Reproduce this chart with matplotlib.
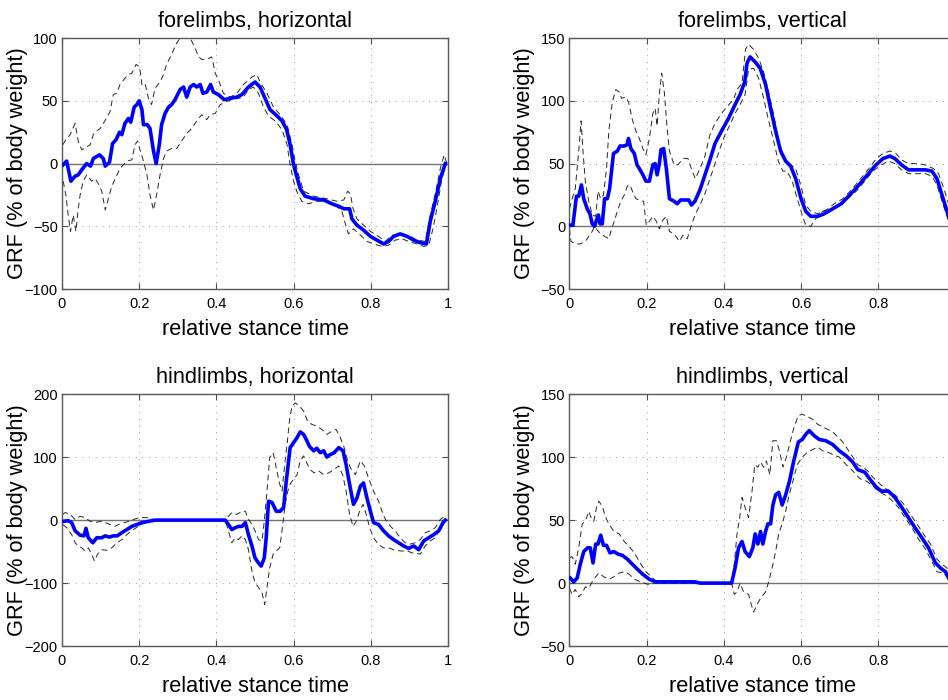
import matplotlib
matplotlib.use('Agg')
import matplotlib.pyplot as plt

plt.rcParams['font.family'] = ['Liberation Sans', 'DejaVu Sans']

# ---- data (x = relative stance time, y = GRF % body weight)

fore_h_mean = [(0.003, -1), (0.012, 2), (0.023, -14), (0.034, -10), (0.042, -9), (0.051, -5), (0.064, 0),
               (0.074, -2), (0.081, 4), (0.097, 7), (0.107, 4), (0.112, -2), (0.123, 1), (0.131, 16),
               (0.140, 19), (0.149, 25), (0.155, 23), (0.163, 32), (0.172, 36), (0.178, 33), (0.187, 45),
               (0.194, 47), (0.200, 50), (0.207, 43), (0.211, 31), (0.221, 31), (0.228, 28), (0.237, 10),
               (0.244, 0), (0.252, 15), (0.258, 31), (0.267, 40), (0.276, 45), (0.284, 47), (0.293, 51),
               (0.306, 59), (0.315, 61), (0.323, 53), (0.332, 61), (0.341, 63), (0.349, 61), (0.358, 63),
               (0.365, 56), (0.375, 57), (0.385, 63), (0.392, 57), (0.405, 55), (0.420, 51), (0.436, 52),
               (0.453, 53), (0.466, 55), (0.483, 61), (0.500, 65), (0.513, 61), (0.526, 52), (0.539, 43),
               (0.557, 38), (0.570, 34), (0.582, 27), (0.591, 15), (0.600, -1), (0.608, -10), (0.617, -20),
               (0.630, -26), (0.652, -28), (0.678, -29), (0.699, -32), (0.717, -34), (0.730, -36),
               (0.745, -36), (0.751, -44), (0.764, -49), (0.781, -53), (0.799, -58), (0.816, -61),
               (0.833, -64), (0.846, -62), (0.859, -58), (0.876, -56), (0.894, -58), (0.911, -61),
               (0.928, -63), (0.944, -64), (0.954, -46), (0.967, -30), (0.980, -12), (0.993, 0)]
fore_h_upper = [(0.002, 15), (0.008, 18), (0.021, 23), (0.034, 32), (0.042, 18), (0.051, 11), (0.073, 15),
                (0.081, 23), (0.090, 26), (0.099, 28), (0.111, 34), (0.124, 41), (0.133, 55), (0.142, 56),
                (0.150, 63), (0.163, 68), (0.172, 71), (0.181, 72), (0.192, 79), (0.201, 77), (0.207, 63),
                (0.215, 64), (0.224, 52), (0.232, 47), (0.241, 60), (0.254, 65), (0.263, 71), (0.271, 79),
                (0.284, 87), (0.297, 96), (0.306, 100), (0.319, 101), (0.332, 100), (0.345, 92), (0.354, 85),
                (0.362, 83), (0.375, 83), (0.388, 85), (0.397, 72), (0.405, 67), (0.418, 56), (0.436, 53),
                (0.453, 56), (0.470, 63), (0.492, 69), (0.505, 71), (0.513, 65), (0.531, 56), (0.548, 45),
                (0.565, 39), (0.583, 31), (0.596, 15), (0.604, 2), (0.613, -9), (0.626, -22), (0.652, -26),
                (0.686, -28), (0.712, -30), (0.730, -29), (0.740, -22), (0.747, -24), (0.754, -36),
                (0.764, -44), (0.781, -49), (0.799, -54), (0.820, -58), (0.838, -62), (0.850, -58),
                (0.868, -56), (0.885, -56), (0.902, -58), (0.920, -61), (0.941, -62), (0.954, -41),
                (0.967, -24), (0.980, -4), (0.990, 7), (0.997, 0)]
fore_h_lower = [(0.003, -14), (0.010, -25), (0.016, -41), (0.022, -54), (0.029, -41), (0.036, -54),
                (0.042, -36), (0.047, -25), (0.055, -14), (0.064, -9), (0.077, -14), (0.086, -12),
                (0.094, -16), (0.103, -22), (0.112, -37), (0.120, -28), (0.129, -18), (0.138, -12),
                (0.150, -4), (0.159, -1), (0.168, 2), (0.181, 3), (0.189, 15), (0.196, 18), (0.202, 11),
                (0.211, 2), (0.220, -9), (0.228, -25), (0.237, -37), (0.245, -25), (0.254, -9), (0.263, 4),
                (0.271, 10), (0.284, 12), (0.297, 12), (0.310, 18), (0.323, 24), (0.336, 28), (0.349, 34),
                (0.362, 39), (0.375, 35), (0.384, 39), (0.397, 40), (0.410, 47), (0.423, 49), (0.440, 51),
                (0.457, 52), (0.470, 53), (0.483, 59), (0.496, 61), (0.509, 56), (0.522, 45), (0.535, 38),
                (0.552, 34), (0.570, 27), (0.583, 15), (0.591, -1), (0.600, -14), (0.608, -22), (0.621, -30),
                (0.639, -32), (0.660, -30), (0.686, -30), (0.708, -33), (0.725, -38), (0.734, -48),
                (0.742, -56), (0.755, -52), (0.773, -57), (0.790, -62), (0.807, -64), (0.829, -66),
                (0.846, -65), (0.863, -61), (0.881, -60), (0.898, -62), (0.920, -64), (0.937, -66),
                (0.950, -65), (0.961, -52), (0.971, -36), (0.984, -12), (0.996, 0)]

fore_v_mean = [(0.002, 1), (0.009, 1), (0.018, 24), (0.024, 24), (0.031, 33), (0.037, 22), (0.046, 14),
               (0.053, 10), (0.059, 2), (0.065, 0), (0.070, 5), (0.075, 9), (0.079, 2), (0.085, 2),
               (0.091, 22), (0.098, 22), (0.104, 30), (0.114, 58), (0.124, 60), (0.131, 64), (0.142, 64),
               (0.149, 65), (0.153, 70), (0.159, 62), (0.168, 58), (0.175, 49), (0.183, 45), (0.192, 40),
               (0.198, 36), (0.207, 36), (0.216, 49), (0.222, 50), (0.227, 41), (0.233, 50), (0.237, 61),
               (0.244, 62), (0.251, 46), (0.259, 22), (0.271, 20), (0.279, 18), (0.288, 21), (0.300, 21),
               (0.309, 21), (0.316, 17), (0.325, 20), (0.338, 29), (0.351, 41), (0.364, 53), (0.377, 66),
               (0.394, 76), (0.412, 86), (0.429, 97), (0.442, 105), (0.454, 115), (0.460, 130),
               (0.468, 135), (0.481, 131), (0.494, 126), (0.508, 113), (0.521, 94), (0.534, 76),
               (0.547, 60), (0.560, 52), (0.573, 48), (0.586, 38), (0.600, 22), (0.612, 12), (0.625, 8),
               (0.643, 8), (0.660, 10), (0.682, 14), (0.704, 18), (0.726, 25), (0.747, 32), (0.769, 40),
               (0.791, 48), (0.812, 54), (0.830, 56), (0.843, 54), (0.860, 49), (0.878, 45), (0.900, 45),
               (0.922, 45), (0.939, 44), (0.952, 38), (0.965, 25), (0.978, 12), (0.990, 0)]
fore_v_upper = [(0.000, 14), (0.007, 22), (0.015, 30), (0.024, 60), (0.030, 84), (0.035, 60), (0.041, 36),
                (0.050, 20), (0.059, 9), (0.068, 8), (0.074, 28), (0.081, 22), (0.088, 25), (0.096, 46),
                (0.102, 76), (0.111, 99), (0.120, 109), (0.129, 107), (0.135, 102), (0.146, 103),
                (0.153, 99), (0.163, 85), (0.172, 76), (0.181, 70), (0.190, 62), (0.198, 57), (0.207, 70),
                (0.216, 90), (0.222, 94), (0.227, 80), (0.233, 106), (0.239, 122), (0.246, 106),
                (0.253, 78), (0.259, 60), (0.271, 49), (0.281, 49), (0.294, 54), (0.307, 54), (0.318, 44),
                (0.326, 38), (0.338, 46), (0.351, 56), (0.364, 73), (0.377, 82), (0.394, 90), (0.407, 95),
                (0.425, 101), (0.434, 109), (0.447, 114), (0.456, 141), (0.464, 145), (0.477, 141),
                (0.490, 134), (0.503, 123), (0.516, 107), (0.529, 89), (0.542, 68), (0.556, 54),
                (0.569, 50), (0.586, 46), (0.600, 32), (0.612, 17), (0.625, 12), (0.643, 10), (0.665, 13),
                (0.686, 18), (0.708, 22), (0.730, 29), (0.752, 37), (0.773, 45), (0.795, 54), (0.812, 58),
                (0.830, 60), (0.846, 58), (0.860, 53), (0.878, 50), (0.900, 50), (0.922, 49), (0.943, 46),
                (0.956, 42), (0.970, 30), (0.983, 17), (0.990, 8)]
fore_v_lower = [(0.000, -2), (0.004, -12), (0.015, -14), (0.028, -14), (0.041, -12), (0.050, -8),
                (0.059, -4), (0.065, 0), (0.072, -3), (0.081, -6), (0.091, -8), (0.102, -10), (0.109, -2),
                (0.116, 4), (0.124, 12), (0.133, 20), (0.142, 25), (0.150, 32), (0.157, 33), (0.163, 28),
                (0.172, 22), (0.181, 21), (0.192, 20), (0.199, 1), (0.207, 4), (0.216, 8), (0.225, 4),
                (0.233, -2), (0.242, 5), (0.251, 8), (0.259, -4), (0.271, -6), (0.285, -12), (0.294, -7),
                (0.305, -10), (0.316, 1), (0.325, 9), (0.338, 17), (0.351, 26), (0.364, 38), (0.377, 50),
                (0.390, 62), (0.403, 73), (0.416, 81), (0.429, 90), (0.442, 97), (0.455, 105),
                (0.464, 125), (0.477, 126), (0.490, 118), (0.503, 102), (0.516, 84), (0.529, 68),
                (0.541, 52), (0.553, 44), (0.564, 44), (0.577, 36), (0.590, 22), (0.604, 8), (0.612, 1),
                (0.625, 0), (0.638, 6), (0.656, 12), (0.678, 14), (0.699, 17), (0.721, 22), (0.743, 28),
                (0.765, 36), (0.786, 44), (0.808, 49), (0.826, 52), (0.843, 50), (0.860, 45), (0.878, 42),
                (0.900, 42), (0.922, 42), (0.939, 40), (0.952, 33), (0.965, 20), (0.978, 8), (0.990, -2)]

hind_h_mean = [(0.003, -2), (0.016, -1), (0.025, -4), (0.034, -17), (0.047, -24), (0.057, -25),
               (0.062, -13), (0.068, -28), (0.080, -36), (0.090, -28), (0.103, -28), (0.112, -25),
               (0.123, -27), (0.133, -25), (0.143, -25), (0.155, -20), (0.168, -15), (0.181, -10),
               (0.194, -7), (0.207, -4), (0.224, -2), (0.241, 0), (0.423, 0), (0.431, -7), (0.440, -15),
               (0.449, -12), (0.457, -10), (0.466, -10), (0.475, -4), (0.483, -23), (0.492, -41),
               (0.500, -60), (0.509, -68), (0.516, -73), (0.524, -60), (0.529, -28), (0.535, 30),
               (0.544, 28), (0.555, 14), (0.565, 14), (0.574, 20), (0.581, 62), (0.591, 115), (0.600, 123),
               (0.609, 131), (0.617, 140), (0.626, 136), (0.635, 125), (0.641, 117), (0.652, 110),
               (0.660, 114), (0.669, 107), (0.678, 110), (0.686, 100), (0.695, 104), (0.705, 107),
               (0.717, 115), (0.728, 110), (0.736, 88), (0.745, 57), (0.755, 25), (0.764, 35), (0.773, 54),
               (0.781, 59), (0.790, 35), (0.799, 14), (0.807, -4), (0.820, -7), (0.833, -17), (0.846, -25),
               (0.859, -31), (0.872, -36), (0.885, -41), (0.898, -45), (0.911, -41), (0.924, -47),
               (0.937, -33), (0.950, -28), (0.963, -23), (0.976, -17), (0.987, -4), (0.993, 0)]
hind_h_upper = [(0.002, 9), (0.008, 12), (0.021, 9), (0.034, 1), (0.047, 6), (0.060, 4), (0.073, -2),
                (0.086, -4), (0.099, -2), (0.112, -4), (0.124, -7), (0.137, -10), (0.150, -6), (0.168, -3),
                (0.185, 1), (0.202, 4), (0.220, 4), (0.237, 1), (0.254, 0), (0.423, 0), (0.431, 6),
                (0.440, 12), (0.453, 9), (0.466, 14), (0.475, 14), (0.483, 1), (0.492, -7), (0.500, -17),
                (0.509, -31), (0.518, -33), (0.524, -2), (0.531, 46), (0.538, 99), (0.547, 107),
                (0.555, 83), (0.564, 57), (0.570, 46), (0.576, 83), (0.583, 120), (0.590, 162),
                (0.596, 181), (0.604, 186), (0.615, 181), (0.626, 173), (0.636, 157), (0.647, 152),
                (0.660, 149), (0.673, 144), (0.686, 136), (0.699, 141), (0.710, 144), (0.721, 131),
                (0.730, 117), (0.738, 99), (0.747, 83), (0.760, 72), (0.773, 94), (0.783, 86), (0.794, 67),
                (0.807, 46), (0.820, 30), (0.829, 14), (0.838, 1), (0.851, -10), (0.863, -17), (0.876, -28),
                (0.889, -36), (0.902, -38), (0.915, -36), (0.928, -31), (0.941, -20), (0.954, -17),
                (0.967, -12), (0.980, 1), (0.989, 5), (0.993, 1)]
hind_h_lower = [(0.002, -7), (0.012, -12), (0.025, -23), (0.034, -36), (0.042, -41), (0.051, -44),
                (0.060, -49), (0.068, -44), (0.077, -54), (0.084, -65), (0.092, -54), (0.103, -47),
                (0.116, -48), (0.129, -44), (0.142, -36), (0.155, -31), (0.168, -23), (0.185, -15),
                (0.202, -8), (0.220, -3), (0.237, -1), (0.254, 0), (0.423, 0), (0.431, -17), (0.440, -36),
                (0.449, -28), (0.457, -31), (0.466, -25), (0.475, -31), (0.483, -47), (0.492, -81),
                (0.500, -99), (0.509, -107), (0.518, -115), (0.525, -134), (0.531, -107), (0.538, -76),
                (0.547, -54), (0.555, -49), (0.564, -44), (0.572, -7), (0.578, 25), (0.585, 46),
                (0.591, 57), (0.600, 65), (0.609, 72), (0.617, 94), (0.626, 102), (0.634, 91), (0.643, 80),
                (0.653, 75), (0.665, 78), (0.678, 72), (0.691, 75), (0.704, 80), (0.717, 86), (0.728, 70),
                (0.736, 46), (0.745, 9), (0.754, -10), (0.762, -2), (0.771, 14), (0.780, 25), (0.788, 9),
                (0.797, -12), (0.807, -28), (0.820, -39), (0.833, -44), (0.846, -44), (0.859, -47),
                (0.876, -49), (0.894, -49), (0.907, -52), (0.920, -53), (0.928, -54), (0.941, -41),
                (0.954, -33), (0.967, -28), (0.980, -12), (0.993, -2)]

hind_v_mean = [(0.002, 4), (0.011, 1), (0.020, 4), (0.028, 15), (0.037, 25), (0.047, 28), (0.054, 28),
               (0.061, 16), (0.068, 31), (0.074, 31), (0.081, 38), (0.088, 30), (0.096, 30), (0.105, 24),
               (0.115, 25), (0.126, 23), (0.137, 22), (0.150, 19), (0.163, 15), (0.176, 11), (0.190, 7),
               (0.207, 3), (0.224, 1), (0.325, 1), (0.338, 0), (0.420, 0), (0.429, 12), (0.438, 28),
               (0.447, 33), (0.455, 25), (0.466, 21), (0.475, 28), (0.481, 39), (0.488, 31), (0.495, 41),
               (0.501, 31), (0.508, 41), (0.514, 47), (0.521, 47), (0.527, 62), (0.534, 70), (0.542, 72),
               (0.551, 62), (0.560, 70), (0.570, 81), (0.581, 97), (0.593, 112), (0.603, 114),
               (0.612, 118), (0.621, 121), (0.634, 117), (0.647, 114), (0.664, 113), (0.682, 110),
               (0.699, 105), (0.717, 101), (0.734, 96), (0.747, 90), (0.765, 88), (0.782, 81), (0.795, 76),
               (0.808, 73), (0.826, 73), (0.843, 68), (0.861, 60), (0.878, 52), (0.895, 44), (0.913, 36),
               (0.930, 28), (0.948, 16), (0.961, 12), (0.974, 9), (0.987, 1)]
hind_v_upper = [(0.000, 20), (0.007, 21), (0.015, 15), (0.024, 28), (0.033, 47), (0.041, 49), (0.050, 57),
                (0.056, 52), (0.063, 49), (0.070, 60), (0.076, 65), (0.085, 61), (0.094, 52), (0.102, 47),
                (0.115, 41), (0.129, 39), (0.142, 33), (0.155, 29), (0.168, 24), (0.181, 17), (0.198, 9),
                (0.216, 4), (0.224, 1), (0.240, 0), (0.420, 0), (0.427, 15), (0.434, 39), (0.441, 52),
                (0.447, 68), (0.455, 60), (0.464, 52), (0.473, 73), (0.480, 94), (0.488, 92), (0.495, 96),
                (0.503, 92), (0.510, 97), (0.519, 86), (0.527, 113), (0.536, 113), (0.544, 105),
                (0.553, 92), (0.562, 100), (0.570, 110), (0.582, 124), (0.593, 133), (0.603, 134),
                (0.617, 132), (0.630, 130), (0.643, 126), (0.656, 124), (0.669, 122), (0.682, 120),
                (0.695, 116), (0.708, 112), (0.721, 106), (0.734, 100), (0.747, 94), (0.760, 92),
                (0.773, 89), (0.786, 84), (0.800, 80), (0.813, 76), (0.830, 73), (0.847, 69), (0.865, 63),
                (0.882, 55), (0.900, 47), (0.917, 39), (0.935, 31), (0.952, 19), (0.965, 15), (0.978, 12),
                (0.989, 3)]
hind_v_lower = [(0.000, -4), (0.007, -9), (0.015, -5), (0.024, -11), (0.033, -8), (0.041, -3), (0.050, -4),
                (0.059, 1), (0.068, 5), (0.076, 8), (0.089, 5), (0.102, 3), (0.115, 5), (0.129, 8),
                (0.142, 9), (0.155, 7), (0.168, 3), (0.185, 1), (0.203, -1), (0.220, 0), (0.420, 0),
                (0.427, -9), (0.434, -7), (0.442, 0), (0.451, -7), (0.464, -9), (0.471, -17), (0.477, -23),
                (0.486, -17), (0.495, -12), (0.508, -7), (0.516, 1), (0.525, 12), (0.534, 25), (0.542, 39),
                (0.551, 47), (0.560, 57), (0.569, 70), (0.579, 81), (0.590, 94), (0.603, 100), (0.617, 104),
                (0.630, 106), (0.643, 108), (0.656, 105), (0.669, 104), (0.682, 102), (0.699, 100),
                (0.717, 94), (0.734, 89), (0.752, 83), (0.769, 81), (0.786, 77), (0.800, 73), (0.817, 70),
                (0.834, 66), (0.852, 60), (0.869, 52), (0.887, 44), (0.904, 35), (0.922, 27), (0.939, 17),
                (0.952, 9), (0.970, 8), (0.983, 3), (0.989, -1)]

titles = ['forelimbs, horizontal', 'forelimbs, vertical', 'hindlimbs, horizontal', 'hindlimbs, vertical']
ylims = [(-100, 100), (-50, 150), (-200, 200), (-50, 150)]
yticks = [[-100, -50, 0, 50, 100], [-50, 0, 50, 100, 150], [-200, -100, 0, 100, 200], [-50, 0, 50, 100, 150]]
xticks = [0, 0.2, 0.4, 0.6, 0.8, 1]
xticklabels = ['0', '0.2', '0.4', '0.6', '0.8', '1']
panels = [(fore_h_mean, fore_h_upper, fore_h_lower),
          (fore_v_mean, fore_v_upper, fore_v_lower),
          (hind_h_mean, hind_h_upper, hind_h_lower),
          (hind_v_mean, hind_v_upper, hind_v_lower)]

# axes rectangles (figure fraction); right column runs slightly past the figure edge like the original
positions = [[0.0654, 0.587, 0.4072, 0.3586],
             [0.6007, 0.587, 0.4072, 0.3586],
             [0.0654, 0.077, 0.4072, 0.360],
             [0.6007, 0.077, 0.4072, 0.360]]

fig = plt.figure(figsize=(9.48, 7.0), dpi=100)

for i in range(4):
    ax = fig.add_axes(positions[i])
    mean, upper, lower = panels[i]
    ax.axhline(0, color='0.45', lw=1.0, zorder=1)
    for band in (upper, lower):
        bx, by = zip(*band)
        ax.plot(bx, by, color='0.15', lw=0.7, linestyle=(0, (6, 4)), zorder=2)
    mx, my = zip(*mean)
    ax.plot(mx, my, color='#0000ff', lw=2.6, zorder=3, solid_joinstyle='round')

    ax.set_xlim(0, 1)
    ax.set_ylim(*ylims[i])
    ax.set_xticks(xticks)
    labels = list(xticklabels)
    if i % 2 == 1:
        # the right column is cropped at the figure edge, its "1" is not visible
        labels[-1] = ''
    ax.set_xticklabels(labels)
    ax.set_yticks(yticks[i])
    ax.grid(True, color='0.45', lw=0.6, linestyle=(0, (1, 7)))
    ax.tick_params(direction='in', length=4, width=0.8, color='0.3', labelsize=10.5,
                   top=True, right=True)
    ax.tick_params(axis='x', pad=6)
    ax.tick_params(axis='y', pad=3)
    for s in ax.spines.values():
        s.set_color('0.35')
        s.set_linewidth(1.0)

    ax.set_title(titles[i], fontsize=15.7, pad=8)
    ax.set_xlabel('relative stance time', fontsize=15.7)
    ax.xaxis.set_label_coords(0.5, -0.118)
    ax.set_ylabel('GRF (% of body weight)', fontsize=15.7)
    ax.yaxis.set_label_coords(-0.088, 0.5)

fig.savefig('out.png', dpi=100)
